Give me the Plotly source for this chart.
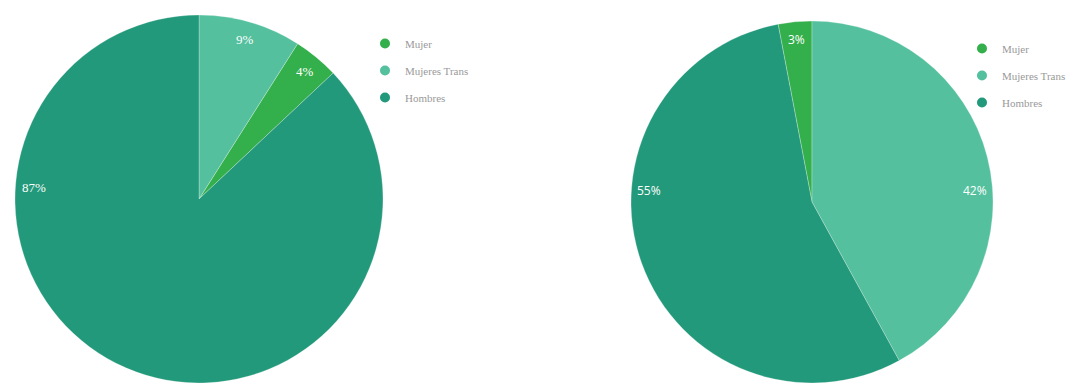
import math
import plotly.graph_objects as go

categories = ["Mujer", "Mujeres Trans", "Hombres"]
colors = ["#33AF4B", "#54C09E", "#22997A"]
left_values = [4, 9, 87]
right_values = [3, 42, 55]

W, H = 1070, 383

# pie boxes in pixels (x0, x1, top, bottom)
left_box = (13, 385, 15, 383)
right_box = (631, 993, 21, 383)


def dom(box):
    x0, x1, t, b = box
    return dict(x=[x0 / W, x1 / W], y=[1 - b / H, 1 - t / H])


def geom(box):
    x0, x1, t, b = box
    r = min(x1 - x0, b - t) / 2
    return (x0 + x1) / 2, (t + b) / 2, r


def label_annots(values, rotation, direction, box, font):
    cx, cy, r = geom(box)
    tot = sum(values)
    cur = rotation
    if direction != "clockwise":
        cur = rotation + values[0] / tot * 360
    out = []
    for v in values:
        span = v / tot * 360
        if direction == "clockwise":
            a0, a1 = cur, cur + span
            cur = a1
        else:
            a0, a1 = cur - span, cur
            cur = a0
        mid = (a0 + a1) / 2
        ang = mid
        if v / tot > 0.3:
            best = None
            for h in (90, 270, -90, -270, 450, 630):
                if a0 <= h <= a1:
                    if best is None or abs(h - mid) < abs(best - mid):
                        best = h
            if best is not None:
                hm = best % 360
                ang = hm - 4 if hm == 90 else hm + 4
        rad = math.radians(ang)
        px = cx + 0.9 * r * math.sin(rad)
        py = cy - 0.9 * r * math.cos(rad)
        out.append(dict(x=px / W, y=1 - py / H, xref="paper", yref="paper",
                        text=f"{round(v / tot * 100)}%", showarrow=False,
                        font=font, xanchor="center", yanchor="middle"))
    return out


tot_l = sum(left_values)
rot_l = left_values[1] / tot_l * 360
tot_r = sum(right_values)
rot_r = -right_values[0] / tot_r * 360

fig = go.Figure()
fig.add_trace(go.Pie(labels=categories, values=left_values, sort=False,
                     direction="counterclockwise", rotation=rot_l,
                     marker=dict(colors=colors, line=dict(color="rgba(255,255,255,0.45)", width=0.6)),
                     textinfo="none", showlegend=False, domain=dom(left_box),
                     hoverinfo="label+percent"))
fig.add_trace(go.Pie(labels=categories, values=right_values, sort=False,
                     direction="clockwise", rotation=rot_r,
                     marker=dict(colors=colors, line=dict(color="rgba(255,255,255,0.45)", width=0.6)),
                     textinfo="none", showlegend=False, domain=dom(right_box),
                     hoverinfo="label+percent"))

for lg in ("legend", "legend2"):
    for i, (c, col) in enumerate(zip(categories, colors)):
        fig.add_trace(go.Scatter(x=[None], y=[None], mode="markers", name=c,
                                 marker=dict(color=col, size=10, symbol="circle"),
                                 legend=lg, legendgroup=lg + str(i), showlegend=True))

annots = label_annots(left_values, rot_l, "counterclockwise", left_box,
                      dict(family="Liberation Serif, serif", size=13, color="white"))
annots += label_annots(right_values, rot_r, "clockwise", right_box,
                       dict(family="Open Sans, sans-serif", size=12, color="white"))

legend_font = dict(family="Liberation Serif, serif", size=11, color="#999999")
fig.update_layout(
    width=W, height=H,
    margin=dict(l=0, r=0, t=0, b=0, autoexpand=False),
    paper_bgcolor="white", plot_bgcolor="white",
    xaxis=dict(visible=False), yaxis=dict(visible=False),
    annotations=annots,
    legend=dict(x=365 / W, y=1 - 29 / H, xanchor="left", yanchor="top",
                xref="container", yref="container",
                font=legend_font, tracegroupgap=8, traceorder="grouped",
                bgcolor="rgba(0,0,0,0)"),
    legend2=dict(x=962 / W, y=1 - 34 / H, xanchor="left", yanchor="top",
                 xref="container", yref="container",
                 font=legend_font, tracegroupgap=8, traceorder="grouped",
                 bgcolor="rgba(0,0,0,0)"),
)

fig.write_html("out.html")
